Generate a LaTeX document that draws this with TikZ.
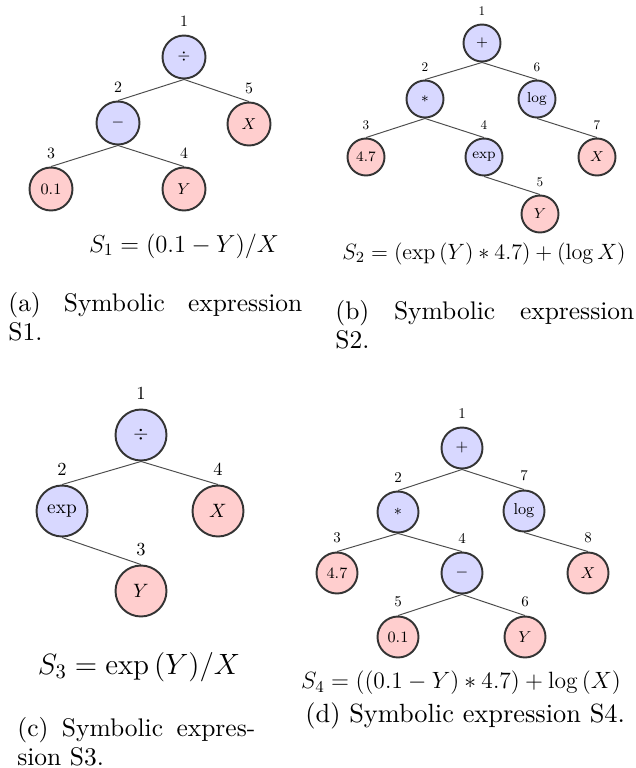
\RequirePackage{fix-cm}
\documentclass[tikz,border=0pt]{standalone}
\usepackage{amsmath, amssymb}
\usepackage[no-math]{fontspec}
\setmainfont{lmroman10-regular.otf}[BoldFont=lmroman10-bold.otf, ItalicFont=lmroman10-italic.otf]
\usepackage{tikz}
\definecolor{OpBlue}{RGB}{216, 216, 255}
\definecolor{LeafRed}{RGB}{255, 206, 206}
\definecolor{RimGray}{RGB}{52, 52, 52}

\begin{document}
\begin{tikzpicture}[x=0.02cm, y=-0.02cm,
  tnode/.style={circle, draw=RimGray, line width=1.1pt, inner sep=0pt},
  op/.style={tnode, fill=OpBlue},
  leaf/.style={tnode, fill=LeafRed},
  edge/.style={draw=black!70, line width=0.55pt},
  capt/.style={inner sep=0pt, anchor=base west, align=justify, font=\fontsize{14.5}{16.8}\selectfont}]
\useasboundingbox (0, 0) rectangle (636, 768);

% (a) S1
\begin{scope}[tnode/.append style={minimum size=0.86cm, font=\fontsize{9}{10}\selectfont},
  every label/.style={font=\fontsize{9}{10}\selectfont, inner sep=0pt}, label distance=4.2pt]
\node[op, label=above:1] (a1) at (184, 57) {$\div$};
\node[op, label=above:2] (a2) at (118, 123) {$-$};
\node[leaf, label=above:5] (a5) at (249, 124) {$X$};
\node[leaf, label=above:3] (a3) at (51, 189) {$0.1$};
\node[leaf, label=above:4] (a4) at (184, 189) {$Y$};
\foreach \p/\c in {a1/a2, a1/a5, a2/a3, a2/a4}
  \draw[edge] (\p.south) -- (\c.north);
\node[font=\fontsize{14}{16}\selectfont] (fa) at (184, 246) {$S_1 = (0.1 - Y)/X$};
\node[capt, text width=5.88cm] (ca) at (8, 311) {(a) Symbolic expression\linebreak S1.};
\end{scope}

% (b) S2
\begin{scope}[tnode/.append style={minimum size=0.74cm, font=\fontsize{8.2}{9}\selectfont},
  every label/.style={font=\fontsize{7.5}{9}\selectfont, inner sep=0pt}, label distance=4.2pt]
\node[op, label=above:1] (b1) at (482, 43) {$+$};
\node[op, label=above:2] (b2) at (425, 99) {$*$};
\node[op, label=above:6] (b6) at (537, 99) {$\log$};
\node[leaf, label=above:3] (b3) at (366, 157) {$4.7$};
\node[op, label=above:4] (b4) at (484, 157) {$\exp$};
\node[leaf, label=above:7] (b7) at (597, 157) {$X$};
\node[leaf, label=above:5] (b5) at (540, 214) {$Y$};
\foreach \p/\c in {b1/b2, b1/b6, b2/b3, b2/b4, b4/b5, b6/b7}
  \draw[edge] (\p.south) -- (\c.north);
\node[font=\fontsize{12.6}{14}\selectfont] (fb) at (484, 254) {$S_2 = (\exp{(Y)} * 4.7) + (\log X)$};
\node[capt, text width=5.98cm] (cb) at (335, 319) {(b) Symbolic expression\linebreak S2.};
\end{scope}

% (c) S3
\begin{scope}[tnode/.append style={minimum size=1.02cm, font=\fontsize{11}{12}\selectfont},
  every label/.style={font=\fontsize{10.5}{12}\selectfont, inner sep=0pt}, label distance=4.8pt]
\node[op, label=above:1] (c1) at (141, 435) {$\div$};
\node[op, label=above:2] (c2) at (62, 511) {$\exp$};
\node[leaf, label=above:4] (c4) at (218, 511) {$X$};
\node[leaf, label=above:3] (c3) at (141, 591) {$Y$};
\foreach \p/\c in {c1/c2, c1/c4, c2/c3}
  \draw[edge] (\p.south) -- (\c.north);
\node[font=\fontsize{16.7}{18}\selectfont] (fc) at (139, 667) {$S_3 = \exp{(Y)}/X$};
\node[capt, text width=4.76cm] (cc) at (17, 736) {(c) Symbolic expres-\linebreak sion S3.};
\end{scope}

% (d) S4
\begin{scope}[tnode/.append style={minimum size=0.82cm, font=\fontsize{9}{10}\selectfont},
  every label/.style={font=\fontsize{8.5}{10}\selectfont, inner sep=0pt}, label distance=4.5pt]
\node[op, label=above:1] (d1) at (462, 448) {$+$};
\node[op, label=above:2] (d2) at (398, 512) {$*$};
\node[op, label=above:7] (d7) at (524, 511) {$\log$};
\node[leaf, label=above:3] (d3) at (337, 573) {$4.7$};
\node[op, label=above:4] (d4) at (462, 573) {$-$};
\node[leaf, label=above:8] (d8) at (588, 573) {$X$};
\node[leaf, label=above:5] (d5) at (398, 637) {$0.1$};
\node[leaf, label=above:6] (d6) at (525, 637) {$Y$};
\foreach \p/\c in {d1/d2, d1/d7, d2/d3, d2/d4, d4/d5, d4/d6, d7/d8}
  \draw[edge] (\p.south) -- (\c.north);
\node[font=\fontsize{13.4}{15}\selectfont] (fd) at (461, 683) {$S_4 = ((0.1 - Y) * 4.7) + \log{(X)}$};
\node[capt, font=\fontsize{15}{17}\selectfont] (cd) at (305, 722) {(d) Symbolic expression S4.};
\end{scope}
\end{tikzpicture}
\end{document}
